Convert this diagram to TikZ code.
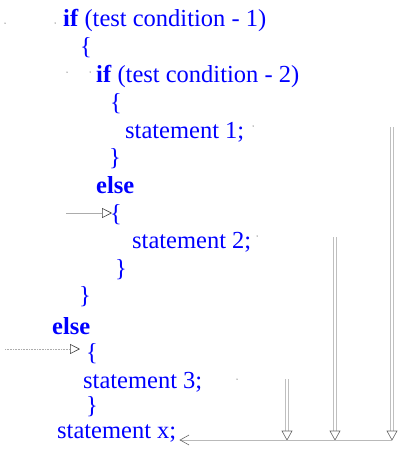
\documentclass[tikz,border=0pt]{standalone}
\usepackage{fontspec}
\setmainfont{Liberation Serif}
\usetikzlibrary{arrows.meta,calc}
\tikzset{
  code/.style={anchor=base west, inner sep=0pt, text=blue, font=\fontsize{24.5}{28}\selectfont},
  inarrow/.style={draw=gray!65, line width=0.6pt, -{Triangle[open, length=10pt, width=10pt, line width=0.6pt, black!75]}},
  vline/.style={draw=gray!50, line width=0.6pt},
  vtip/.style={draw=gray!80!black, line width=0.6pt, fill=white},
  hline/.style={draw=gray!55, line width=0.8pt, -{Straight Barb[length=9pt, width=10pt, line width=0.6pt, gray!80!black]}}
}
\newcommand{\vjump}[2]{%
  \draw[vline] ($(#1)+(-1.3,0)$) -- ($(#2)+(-1.3,-9)$);
  \draw[vline] ($(#1)+(1.3,0)$) -- ($(#2)+(1.3,-9)$);
  \draw[vtip] ($(#2)+(-5,-9)$) -- ($(#2)+(5,-9)$) -- (#2) -- cycle;}
\begin{document}
\begin{tikzpicture}[x=1pt,y=-1pt]
\useasboundingbox (0,0) rectangle (406,455);
\node[code] (l1)  at (63,26)  {\textbf{if} (test condition - 1)};
\node[code] (l2)  at (80,54)  {\{};
\node[code] (l3)  at (96,82)  {\textbf{if} (test condition - 2)};
\node[code] (l4)  at (110,110) {\{};
\node[code] (l5)  at (125,138) {statement 1;};
\node[code] (l6)  at (109,165) {\}};
\node[code] (l7)  at (96,193) {\textbf{else}};
\node[code] (l8)  at (110,221) {\{};
\node[code] (l9)  at (132,248) {statement 2;};
\node[code] (l10) at (115,276) {\}};
\node[code] (l11) at (79,303) {\}};
\node[code] (l12) at (52,334) {\textbf{else}};
\node[code] (l13) at (86,360) {\{};
\node[code] (l14) at (83,388) {statement 3;};
\node[code] (l15) at (86,413) {\}};
\node[code] (sx)  at (57,438) {statement x;};

% incoming arrows to else-blocks
\coordinate (a1) at (66,213);
\coordinate (a2) at (5,349);
\draw[inarrow] (a1) -- (112,213);
\draw[inarrow, densely dotted] (a2) -- (80,349);

% vertical jumps
\coordinate (v1t) at (287,379); \coordinate (v1b) at (287,440);
\coordinate (v2t) at (335,237); \coordinate (v2b) at (335,440);
\coordinate (v3t) at (392,127); \coordinate (v3b) at (392,440);
\vjump{v1t}{v1b}
\vjump{v2t}{v2b}
\vjump{v3t}{v3b}

% collecting line into statement x
\draw[hline] (v3b) -- ($(sx.base east)+(3,2)$);

% specks
\foreach \p in {(5,23),(55,23),(67,72),(90,72),(253,126),(257,236),(237,379)}
  \fill[black] \p circle (0.5);
\end{tikzpicture}
\end{document}
